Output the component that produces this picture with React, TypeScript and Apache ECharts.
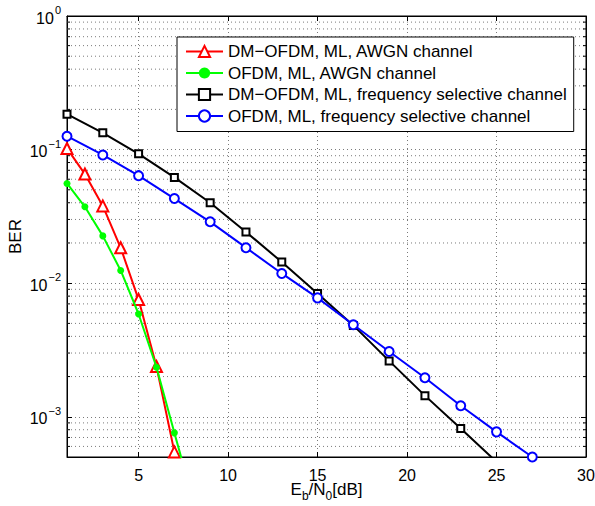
import React, { useEffect, useRef } from "react";
import * as echarts from "echarts";

const snrAwgn = [1, 2, 3, 4, 5, 6, 7, 8];
const berDmOfdmAwgn = [0.102, 0.0656, 0.0379, 0.0184, 0.00754, 0.00238, 0.000546, 0.00012];
const berOfdmAwgn = [0.0558, 0.0373, 0.0226, 0.01245, 0.00588, 0.00235, 0.000758, 0.00025];
const snrFs = [1, 3, 5, 7, 9, 11, 13, 15, 17, 19, 21, 23, 25, 27];
const berDmOfdmFs = [0.184, 0.1334, 0.0929, 0.0619, 0.04, 0.0242, 0.0144, 0.00837, 0.00483, 0.00262, 0.00144, 0.000817, 0.00046];
const berOfdmFs = [0.126, 0.0912, 0.0638, 0.043, 0.0288, 0.01844, 0.01183, 0.00776, 0.00489, 0.00308, 0.00196, 0.00121, 0.000771, 0.0005];
const minorGridValues = [
  0.0006, 0.0007, 0.0008, 0.0009,
  0.002, 0.003, 0.004, 0.005, 0.006, 0.007, 0.008, 0.009,
  0.02, 0.03, 0.04, 0.05, 0.06, 0.07, 0.08, 0.09,
  0.2, 0.3, 0.4, 0.5, 0.6, 0.7, 0.8, 0.9,
];
const seriesNames = [
  "DM\u2212OFDM, ML, AWGN channel",
  "OFDM, ML, AWGN channel",
  "DM\u2212OFDM, ML, frequency selective channel",
  "OFDM, ML, frequency selective channel",
];

const X_MIN = 1;
const X_MAX = 30;
const Y_MIN = 0.0005;
const Y_MAX = 1;
const FONT = "'Liberation Sans', Arial, Helvetica, sans-serif";
const GRID_COLOR = "#7a7a7a";

function pairs(xs: number[], ys: number[]) {
  return ys.map((y, i) => [xs[i], y]);
}

export default function App() {
  const ref = useRef<HTMLDivElement>(null);
  useEffect(() => {
    if (!ref.current) return;
    const chart = echarts.init(ref.current, undefined, { renderer: "svg" });
    const yLabelFmt = (v: number) => {
      const e = Math.round(Math.log10(v));
      const s = e < 0 ? "\u2212" + -e : String(e);
      return `{b|10}{s|${s}}`;
    };
    const option: any = {
      animation: false,
      backgroundColor: "#fff",
      textStyle: { fontFamily: FONT, color: "#000" },
      grid: {
        left: 67,
        top: 16,
        right: 9,
        bottom: 49,
        containLabel: false,
        outerBoundsMode: "none",
        show: true,
        borderColor: "#000",
        borderWidth: 1,
        backgroundColor: "transparent",
      },
      legend: {
        orient: "vertical",
        left: 177,
        top: 37,
        data: seriesNames,
        backgroundColor: "#fff",
        borderColor: "#000",
        borderWidth: 1,
        padding: [6, 7, 7, 8],
        itemWidth: 37,
        itemHeight: 14,
        itemGap: 4.5,
        textStyle: { fontSize: 17, fontFamily: FONT, color: "#000" },
      },
      xAxis: [
        {
          type: "value",
          min: X_MIN,
          max: X_MAX,
          splitNumber: 6,
          name: "{m|E}{sub|b}{m|/N}{sub|0}{m|[dB]}",
          nameLocation: "middle",
          nameGap: 22,
          nameMoveOverlap: false,
          nameTextStyle: {
            rich: {
              m: { fontSize: 17, fontFamily: FONT, color: "#000", lineHeight: 20 },
              sub: { fontSize: 12, fontFamily: FONT, color: "#000", lineHeight: 12, padding: [13, 0, 0, 0] },
            },
          },
          axisLine: { show: true, lineStyle: { color: "#000", width: 1 } },
          axisTick: { show: true, inside: true, length: 5, lineStyle: { color: "#000" } },
          axisLabel: { showMinLabel: false, showMaxLabel: true, fontSize: 16, color: "#000", fontFamily: FONT, margin: 10 },
          splitLine: { show: true, lineStyle: { color: GRID_COLOR, type: [1, 3], width: 1 } },
        },
        {
          type: "value",
          position: "top",
          min: X_MIN,
          max: X_MAX,
          splitNumber: 6,
          axisLine: { show: true, lineStyle: { color: "#000" } },
          axisTick: { show: true, inside: true, length: 5, lineStyle: { color: "#000" } },
          axisLabel: { show: false },
          splitLine: { show: false },
        },
      ],
      yAxis: [
        {
          type: "log",
          logBase: 10,
          min: Y_MIN,
          max: Y_MAX,
          name: "BER",
          nameLocation: "middle",
          nameGap: 43,
          nameRotate: 90,
          nameMoveOverlap: false,
          nameTextStyle: { fontSize: 17, fontFamily: FONT, color: "#000" },
          axisLine: { show: true, lineStyle: { color: "#000", width: 1 } },
          axisTick: { show: true, inside: true, length: 5, lineStyle: { color: "#000" } },
          axisLabel: {
            showMinLabel: false,
            margin: 6,
            formatter: yLabelFmt,
            rich: {
              b: { fontSize: 16, fontFamily: FONT, color: "#000", padding: [4, 0, 0, 0] },
              s: { fontSize: 11, fontFamily: FONT, color: "#000", padding: [0, 0, 12, 1] },
            },
          },
          splitLine: { show: true, lineStyle: { color: GRID_COLOR, type: [1, 3], width: 1 } },
        },
        {
          type: "log",
          logBase: 10,
          min: Y_MIN,
          max: Y_MAX,
          position: "right",
          axisLine: { show: true, lineStyle: { color: "#000" } },
          axisTick: { show: true, inside: true, length: 5, lineStyle: { color: "#000" } },
          axisLabel: { show: false },
          splitLine: { show: false },
        },
      ],
      series: [
        {
          type: "custom",
          name: "minor-grid",
          silent: true,
          xAxisIndex: 0,
          yAxisIndex: 0,
          z: 1,
          data: minorGridValues.map((v) => [X_MIN, v]),
          renderItem: (_params: any, api: any) => {
            const v = api.value(1);
            const a = api.coord([X_MIN, v]);
            const b = api.coord([X_MAX, v]);
            return {
              type: "group",
              children: [
                {
                  type: "line",
                  shape: { x1: a[0], y1: a[1], x2: b[0], y2: b[1] },
                  style: { stroke: GRID_COLOR, lineWidth: 1, lineDash: [1, 3] },
                },
                {
                  type: "line",
                  shape: { x1: a[0], y1: a[1], x2: a[0] + 3, y2: a[1] },
                  style: { stroke: "#000", lineWidth: 1 },
                },
                {
                  type: "line",
                  shape: { x1: b[0] - 3, y1: b[1], x2: b[0], y2: b[1] },
                  style: { stroke: "#000", lineWidth: 1 },
                },
              ],
            };
          },
        },
        {
          type: "line",
          name: seriesNames[0],
          data: pairs(snrAwgn, berDmOfdmAwgn),
          symbol: "emptyTriangle",
          symbolSize: 11,
          z: 3,
          lineStyle: { color: "#ff0000", width: 2 },
          itemStyle: { color: "#ff0000", borderWidth: 1.5 },
        },
        {
          type: "line",
          name: seriesNames[1],
          data: pairs(snrAwgn, berOfdmAwgn),
          symbol: "circle",
          symbolSize: 7,
          z: 4,
          lineStyle: { color: "#00ff00", width: 2 },
          itemStyle: { color: "#00ff00" },
        },
        {
          type: "line",
          name: seriesNames[2],
          data: pairs(snrFs, berDmOfdmFs),
          symbol: "emptyRect",
          symbolSize: 7,
          z: 5,
          lineStyle: { color: "#000000", width: 2 },
          itemStyle: { color: "#000000", borderWidth: 1.5 },
        },
        {
          type: "line",
          name: seriesNames[3],
          data: pairs(snrFs, berOfdmFs),
          symbol: "emptyCircle",
          symbolSize: 9,
          z: 6,
          lineStyle: { color: "#0000ff", width: 2 },
          itemStyle: { color: "#0000ff", borderWidth: 2 },
        },
      ],
    };
    chart.setOption(option);
    return () => chart.dispose();
  }, []);
  return <div ref={ref} style={{ width: 595, height: 506, position: "absolute", left: 0, top: 0, background: "#fff" }} />;
}
